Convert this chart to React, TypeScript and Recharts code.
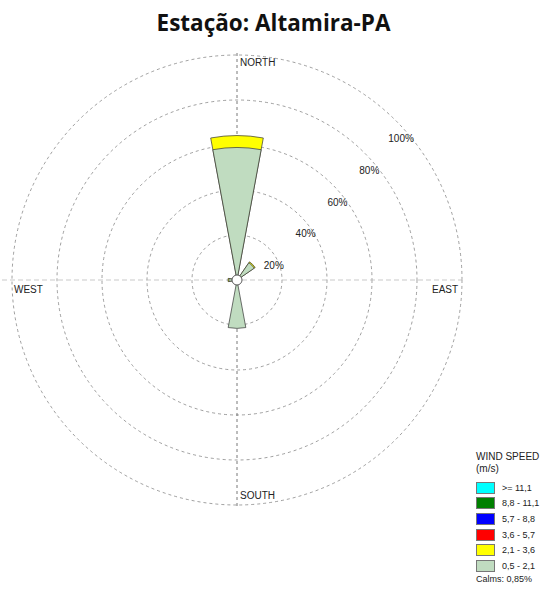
import { RadarChart, Radar, PolarGrid, PolarAngleAxis, PolarRadiusAxis, Sector } from "recharts"

const directions = ["N", "NNE", "NE", "ENE", "E", "ESE", "SE", "SSE", "S", "SSW", "SW", "WSW", "W", "WNW", "NW", "NNW"]
// frequencies (%) per speed class
const speed05to21 = [58.9, 0, 9.3, 0, 0, 0, 0, 0, 21.5, 0, 0, 0, 3.6, 0, 0, 0]
const speed21to36 = [5.3, 0, 0.5, 0, 0, 0, 0, 0, 0, 0, 0, 0, 0.4, 0, 0, 0]
const radiusTicks = [20, 40, 60, 80, 100]

const speedLabels = [">= 11,1", "8,8 - 11,1", "5,7 - 8,8", "3,6 - 5,7", "2,1 - 3,6", "0,5 - 2,1"]
const speedColors = ["#00ffff", "#008000", "#0000ff", "#ff0000", "#ffff00", "#c0dcc0"]
const calms = "0,85%"

const data = directions.map((dir, i) => ({
    dir,
    low: speed05to21[i],
    band: speed21to36[i],
    high: speed05to21[i] + speed21to36[i],
}))

const W = 541
const H = 589
const CX = 237
const CY = 280
const R = 225
const HALF = 10.5
const FONT = "Arial, 'Liberation Sans', sans-serif"

const YellowPetals = (props: any) => {
    const pts = props.points || []
    if (!pts.length) return null
    const { cx, cy } = pts[0]
    return (
        <g>
            <line x1={cx - R - 10} y1={cy} x2={cx + R} y2={cy} stroke="#bbb" strokeWidth={0.8} strokeDasharray="5 3" />
            <line x1={cx} y1={cy - R - 2} x2={cx} y2={cy + R + 3} stroke="#555" strokeWidth={0.8} strokeDasharray="3 3" />
            <text x={cx + 3} y={cy - 214} fontSize={10} fontFamily={FONT} fill="#222">NORTH</text>
            <text x={cx + 3} y={cy + 219} fontSize={10} fontFamily={FONT} fill="#222">SOUTH</text>
            <text x={cx - 223} y={cy + 13} fontSize={10} fontFamily={FONT} fill="#222">WEST</text>
            <text x={cx + 195} y={cy + 13} fontSize={10} fontFamily={FONT} fill="#222">EAST</text>
            {pts.map((p: any, i: number) =>
                p.payload.band > 0 ? (
                    <Sector
                        key={i}
                        cx={cx}
                        cy={cy}
                        innerRadius={0}
                        outerRadius={p.radius}
                        startAngle={p.angle - HALF}
                        endAngle={p.angle + HALF}
                        fill={speedColors[4]}
                        stroke="#333"
                        strokeWidth={0.7}
                    />
                ) : null
            )}
        </g>
    )
}

const GreenPetals = (props: any) => {
    const pts = props.points || []
    if (!pts.length) return null
    const { cx, cy } = pts[0]
    return (
        <g>
            {pts.map((p: any, i: number) =>
                p.payload.low > 0 ? (
                    <Sector
                        key={i}
                        cx={cx}
                        cy={cy}
                        innerRadius={0}
                        outerRadius={p.radius}
                        startAngle={p.angle - HALF}
                        endAngle={p.angle + HALF}
                        fill={speedColors[5]}
                        stroke="#333"
                        strokeWidth={0.7}
                    />
                ) : null
            )}
            <circle cx={cx} cy={cy} r={5} fill="#fff" stroke="#333" strokeWidth={0.8} />
        </g>
    )
}

const RadiusTick = (props: any) => {
    const { x, y, payload } = props
    return (
        <text x={x + 5} y={y + 21} textAnchor="middle" fontSize={10} fontFamily={FONT} fill="#222">
            {payload.value}%
        </text>
    )
}

export default function App() {
    return (
        <div style={{ position: "absolute", left: 0, top: 0, width: W, height: H, background: "#fff" }}>
            <div
                style={{
                    position: "absolute",
                    top: 8,
                    left: 0,
                    width: 547,
                    textAlign: "center",
                    fontFamily: "'Open Sans', Lato, sans-serif",
                    fontWeight: 700,
                    fontSize: 22.5,
                    lineHeight: "30px",
                    color: "#111",
                }}
            >
                Estação: Altamira-PA
            </div>
            <RadarChart
                width={W}
                height={H}
                data={data}
                cx={CX}
                cy={CY}
                outerRadius={R}
                margin={{ top: 0, right: 0, bottom: 0, left: 0 }}
                style={{ position: "absolute", left: 0, top: 0 }}
            >
                <PolarGrid gridType="circle" radialLines={false} stroke="#777" strokeWidth={0.7} strokeDasharray="3 3" />
                <PolarAngleAxis dataKey="dir" tick={false} axisLine={false} tickLine={false} />
                <PolarRadiusAxis
                    angle={45}
                    domain={[0, 100]}
                    ticks={radiusTicks}
                    tick={RadiusTick}
                    axisLine={false}
                    tickLine={false}
                />
                <Radar dataKey="high" shape={YellowPetals} dot={false} legendType="none" isAnimationActive={false} />
                <Radar dataKey="low" shape={GreenPetals} dot={false} legendType="none" isAnimationActive={false} />
            </RadarChart>
            <div style={{ position: "absolute", left: 476, top: 451, fontFamily: FONT, color: "#222", whiteSpace: "nowrap" }}>
                <div style={{ fontSize: 10, lineHeight: "12px" }}>WIND SPEED</div>
                <div style={{ fontSize: 10, lineHeight: "12px", marginBottom: 5 }}>(m/s)</div>
                {speedLabels.map((label, i) => (
                    <div key={label} style={{ display: "flex", alignItems: "center", height: 15.6 }}>
                        <div
                            style={{
                                width: 17,
                                height: 10,
                                background: speedColors[i],
                                border: "0.5px solid #777",
                                marginRight: 7,
                            }}
                        />
                        <span style={{ fontSize: 9 }}>{label}</span>
                    </div>
                ))}
                <div style={{ fontSize: 9, lineHeight: "10px", marginTop: 0 }}>Calms: {calms}</div>
            </div>
        </div>
    )
}
